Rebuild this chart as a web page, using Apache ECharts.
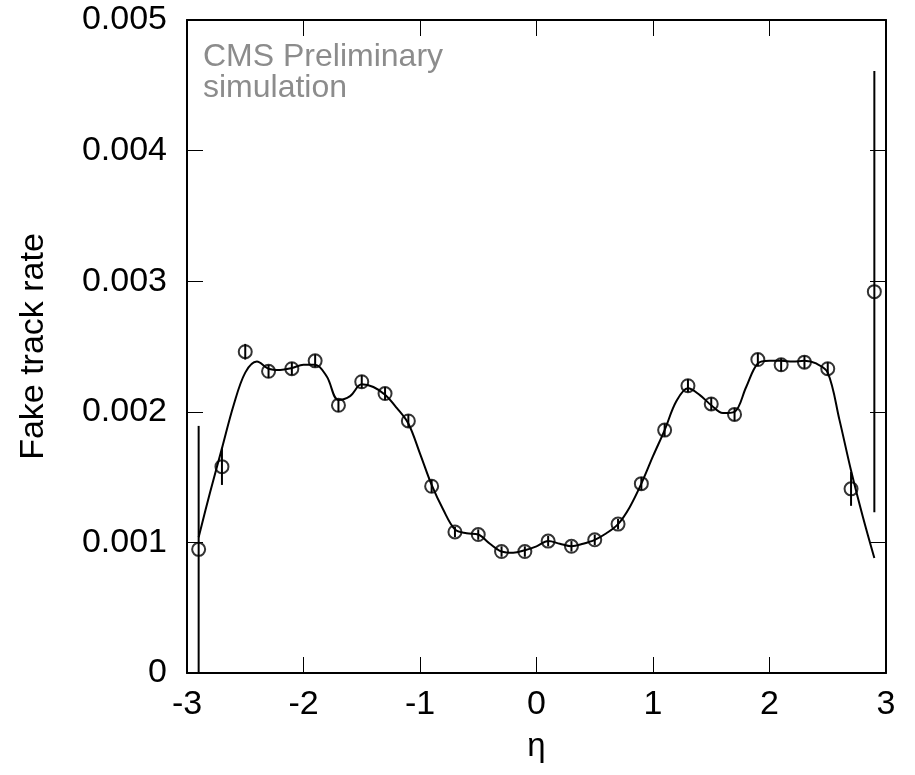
<!DOCTYPE html>
<html>
<head>
<meta charset="utf-8">
<script src="https://cdn.jsdelivr.net/npm/echarts@6/dist/echarts.min.js"></script>
<style>
  html, body { margin: 0; padding: 0; background: #fff; }
  #chart { width: 915px; height: 775px; }
</style>
</head>
<body>
<div id="chart"></div>
<script>
// Bin centres in pseudorapidity
const etaBins = [-2.9, -2.7, -2.5, -2.3, -2.1, -1.9, -1.7, -1.5, -1.3, -1.1,
                 -0.9, -0.7, -0.5, -0.3, -0.1, 0.1, 0.3, 0.5, 0.7, 0.9,
                 1.1, 1.3, 1.5, 1.7, 1.9, 2.1, 2.3, 2.5, 2.7, 2.9];
// Fake track rate per bin
const fakeRate = [0.000947, 0.00158, 0.00246, 0.00231, 0.00233, 0.00239, 0.00205, 0.00223, 0.00214, 0.00193,
                  0.00143, 0.00108, 0.00106, 0.00093, 0.00093, 0.00101, 0.00097, 0.00102, 0.00114, 0.00145,
                  0.00186, 0.00220, 0.00206, 0.00198, 0.00240, 0.00236, 0.00238, 0.00233, 0.00141, 0.00292];
// Statistical uncertainty per bin
const fakeRateErr = [0.000945, 0.00014, 0.00006, 0.00005, 0.00005, 0.00005, 0.00005, 0.00005, 0.00005, 0.00005,
                     0.00005, 0.00004, 0.00004, 0.00004, 0.00004, 0.00004, 0.00004, 0.00004, 0.00004, 0.00005,
                     0.00005, 0.00005, 0.00005, 0.00005, 0.00005, 0.00005, 0.00005, 0.00005, 0.00013, 0.00169];

// Smooth fit curve sampled every 0.1 in eta
const fitEta = [-2.9, -2.8, -2.7, -2.6, -2.5, -2.4, -2.3, -2.2, -2.1, -2.0,
                -1.9, -1.8, -1.7, -1.6, -1.5, -1.4, -1.3, -1.2, -1.1, -1.0,
                -0.9, -0.8, -0.7, -0.6, -0.5, -0.4, -0.3, -0.2, -0.1, 0.0,
                0.1, 0.2, 0.3, 0.4, 0.5, 0.6, 0.7, 0.8, 0.9, 1.0,
                1.1, 1.2, 1.3, 1.4, 1.5, 1.6, 1.7, 1.8, 1.9, 2.0,
                2.1, 2.2, 2.3, 2.4, 2.5, 2.6, 2.7, 2.8, 2.9];
const fitRate = [0.00104, 0.00139, 0.00172, 0.00205, 0.00230, 0.002385, 0.00233, 0.00232, 0.002335, 0.00236,
                 0.00236, 0.00227, 0.00209, 0.00212, 0.00221, 0.00219, 0.00213, 0.00203, 0.00191, 0.00168,
                 0.00144, 0.00125, 0.00110, 0.00107, 0.00106, 0.00099, 0.00093, 0.00092, 0.00094, 0.00097,
                 0.00101, 0.00099, 0.00097, 0.00099, 0.00102, 0.00107, 0.00114, 0.00127, 0.00145, 0.00166,
                 0.00186, 0.00208, 0.00218, 0.00213, 0.00205, 0.00199, 0.00200, 0.00219, 0.00237, 0.00239,
                 0.00239, 0.002385, 0.00239, 0.00237, 0.00230, 0.00194, 0.00155, 0.00120, 0.00088];

// Axis tick values
const xTicks = [-3, -2, -1, 0, 1, 2, 3];
const yTicks = [0, 0.001, 0.002, 0.003, 0.004, 0.005];

const FONT = '"Liberation Sans", Arial, Helvetica, sans-serif';

const chart = echarts.init(document.getElementById('chart'), null, { renderer: 'canvas' });

const points = etaBins.map((x, i) => [x, fakeRate[i]]);
const errBars = etaBins.map((x, i) => [x, fakeRate[i] - fakeRateErr[i], fakeRate[i] + fakeRateErr[i]]);
const fitLine = fitEta.map((x, i) => [x, fitRate[i]]);

const frameLine = { show: true, onZero: false, lineStyle: { color: '#000', width: 2 } };
const innerTick = { show: true, inside: true, length: 16, lineStyle: { color: '#000', width: 1 } };

chart.setOption({
  animation: false,
  backgroundColor: '#fff',
  grid: { left: 187, right: 29, top: 20, bottom: 102, containLabel: false },
  xAxis: [
    {
      type: 'value', min: xTicks[0], max: xTicks[xTicks.length - 1], interval: 1,
      position: 'bottom',
      axisLine: frameLine, axisTick: innerTick, splitLine: { show: false },
      axisLabel: { fontSize: 34, color: '#000', fontFamily: FONT, margin: 15,
                   formatter: v => String(Math.round(v)) },
      name: 'η', nameLocation: 'middle', nameGap: 57,
      nameTextStyle: { fontSize: 33, color: '#000', fontFamily: FONT }
    },
    {
      type: 'value', min: xTicks[0], max: xTicks[xTicks.length - 1], interval: 1,
      position: 'top',
      axisLine: frameLine, axisTick: innerTick, splitLine: { show: false },
      axisLabel: { show: false }
    }
  ],
  yAxis: [
    {
      type: 'value', min: yTicks[0], max: yTicks[yTicks.length - 1], interval: 0.001,
      position: 'left',
      axisLine: frameLine, axisTick: innerTick, splitLine: { show: false },
      axisLabel: { fontSize: 34, color: '#000', fontFamily: FONT, margin: 20,
                   formatter: v => (v === 0 ? '0' : v.toFixed(3)) },
      name: 'Fake track rate', nameLocation: 'middle', nameGap: 136, nameRotate: 90,
      nameTextStyle: { fontSize: 34, color: '#000', fontFamily: FONT }
    },
    {
      type: 'value', min: yTicks[0], max: yTicks[yTicks.length - 1], interval: 0.001,
      position: 'right',
      axisLine: frameLine, axisTick: innerTick, splitLine: { show: false },
      axisLabel: { show: false }
    }
  ],
  graphic: [
    {
      type: 'text', left: 203, top: 41,
      style: { text: 'CMS Preliminary\nsimulation', fill: '#8c8c8c', font: '32px ' + FONT, lineHeight: 31 }
    }
  ],
  series: [
    {
      name: 'fit', type: 'line', data: fitLine, smooth: 0.35, showSymbol: false,
      lineStyle: { color: '#000', width: 2 }, z: 2
    },
    {
      name: 'errors', type: 'custom', data: errBars, clip: true, z: 3,
      renderItem: function (params, api) {
        const x = api.value(0);
        const lo = api.coord([x, api.value(1)]);
        const hi = api.coord([x, api.value(2)]);
        return {
          type: 'line',
          shape: { x1: lo[0], y1: lo[1], x2: hi[0], y2: hi[1] },
          style: { stroke: '#000', lineWidth: 2 }
        };
      }
    },
    {
      name: 'rate', type: 'scatter', data: points, symbol: 'circle', symbolSize: 13, z: 4,
      itemStyle: { color: 'rgba(0,0,0,0)', borderColor: '#000', borderWidth: 2 }
    }
  ]
});
</script>
</body>
</html>
